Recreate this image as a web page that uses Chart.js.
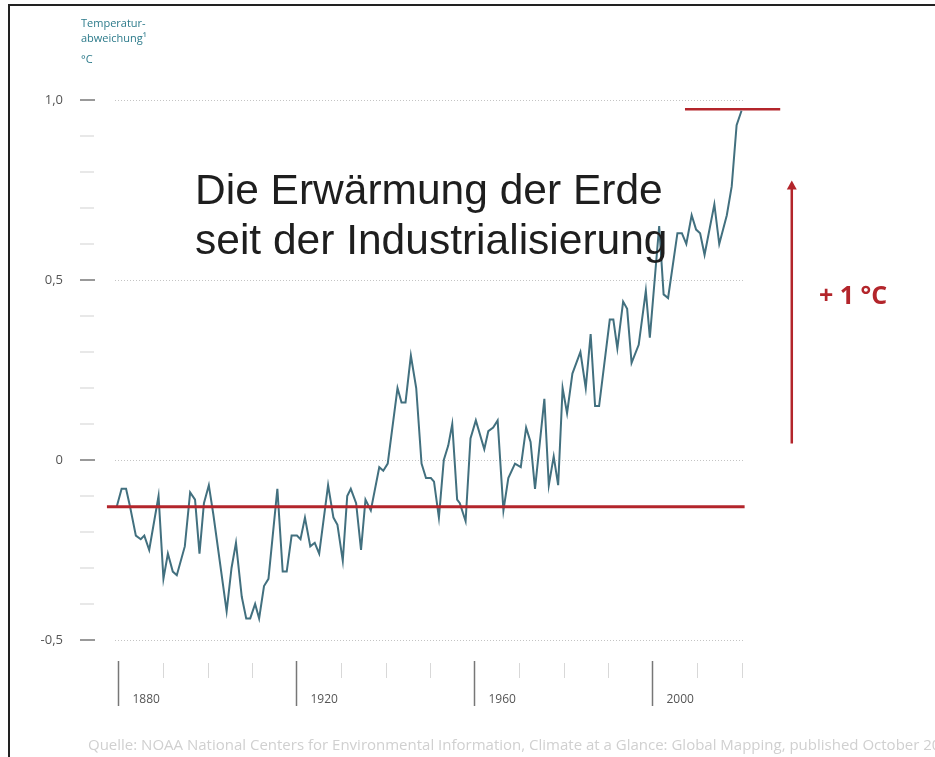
<!DOCTYPE html>
<html>
<head>
<meta charset="utf-8">
<script src="https://cdn.jsdelivr.net/npm/chart.js@4/dist/chart.umd.min.js"></script>
<style>
  html, body { margin: 0; padding: 0; background: #fff; }
  canvas { display: block; }
</style>
</head>
<body>
<canvas id="tempChart" width="935" height="757"></canvas>
<script>
// Jahre und Temperaturabweichung (°C)
const years = [
  1879.6, 1880.7, 1881.7, 1882.6, 1883.9, 1885.0, 1885.8, 1886.9, 1889.0, 1890.1,
  1891.1, 1892.2, 1893.1, 1894.9, 1896.1, 1897.2, 1898.2, 1899.2, 1900.3, 1901.3,
  1904.3, 1905.4, 1906.4, 1907.7, 1908.7, 1909.6, 1910.7, 1911.6, 1912.7, 1913.7,
  1915.7, 1916.9, 1917.8, 1918.9, 1920.1, 1920.9, 1921.9, 1923.1, 1924.1, 1925.1,
  1927.1, 1928.3, 1929.2, 1930.4, 1931.4, 1932.2, 1933.4, 1934.5, 1935.5, 1936.7,
  1938.6, 1939.5, 1940.5, 1942.7, 1943.6, 1944.5, 1945.7, 1946.9, 1948.1, 1949.1,
  1950.2, 1950.9, 1952.0, 1953.1, 1954.1, 1955.0, 1956.1, 1956.7, 1958.0, 1959.1,
  1960.3, 1962.2, 1963.1, 1964.2, 1965.2, 1966.5, 1967.6, 1969.1, 1970.4, 1971.6,
  1972.6, 1973.6, 1975.7, 1976.7, 1977.8, 1978.8, 1979.8, 1980.8, 1982.0, 1983.8,
  1985.0, 1986.1, 1987.1, 1988.0, 1990.4, 1991.2, 1992.1, 1993.4, 1994.3, 1995.3,
  1996.9, 1998.5, 1999.4, 2001.5, 2002.5, 2003.5, 2005.6, 2006.6, 2007.6, 2008.8,
  2009.8, 2010.7, 2011.7, 2013.9, 2015.0, 2016.7, 2017.8, 2018.9, 2020.0
];
const anomaly = [
  -0.13, -0.08, -0.08, -0.13, -0.21, -0.22, -0.21, -0.25, -0.10, -0.33,
  -0.26, -0.31, -0.32, -0.24, -0.09, -0.11, -0.26, -0.12, -0.07, -0.15,
  -0.42, -0.30, -0.23, -0.38, -0.44, -0.44, -0.40, -0.44, -0.35, -0.33,
  -0.08, -0.31, -0.31, -0.21, -0.21, -0.22, -0.16, -0.24, -0.23, -0.26,
  -0.07, -0.16, -0.18, -0.28, -0.10, -0.08, -0.12, -0.25, -0.11, -0.14,
  -0.02, -0.03, -0.01, 0.20, 0.16, 0.16, 0.29, 0.20, -0.01, -0.05,
  -0.05, -0.06, -0.16, 0.00, 0.04, 0.10, -0.11, -0.12, -0.17, 0.06,
  0.11, 0.03, 0.08, 0.09, 0.11, -0.14, -0.05, -0.01, -0.02, 0.09,
  0.05, -0.08, 0.17, -0.07, 0.01, -0.07, 0.20, 0.13, 0.24, 0.30,
  0.20, 0.35, 0.15, 0.15, 0.39, 0.39, 0.31, 0.44, 0.42, 0.27,
  0.32, 0.47, 0.34, 0.65, 0.46, 0.45, 0.63, 0.63, 0.60, 0.68,
  0.64, 0.63, 0.57, 0.71, 0.60, 0.68, 0.76, 0.93, 0.97
];

// Referenzlinien
const baseLevel = -0.13;
const baseYears = [1877.4, 2020.7];
const topLevel = 0.974;
const topYears = [2007.3, 2028.7];
const arrowYear = 2031.3;
const arrowRange = [0.046, 0.76];

// Achsen
const yMajor = [-0.5, 0, 0.5, 1.0];
const yMajorLabels = ['-0,5', '0', '0,5', '1,0'];
const yMinor = [-0.4, -0.3, -0.2, -0.1, 0.1, 0.2, 0.3, 0.4, 0.6, 0.7, 0.8, 0.9];
const xMajor = [1880, 1920, 1960, 2000];
const xMajorLabels = ['1880', '1920', '1960', '2000'];
const xMinor = [1890, 1900, 1910, 1930, 1940, 1950, 1970, 1980, 1990, 2010, 2020];

const red = '#b3252b';

const decorPlugin = {
  id: 'decor',
  beforeDatasetsDraw(chart) {
    const { ctx, scales: { x, y } } = chart;
    ctx.save();
    // gepunktete Gitterlinien
    ctx.strokeStyle = '#c4c4c4';
    ctx.lineWidth = 1;
    ctx.setLineDash([1, 2]);
    yMajor.forEach(v => {
      const py = Math.round(y.getPixelForValue(v)) + 0.5;
      ctx.beginPath();
      ctx.moveTo(115, py);
      ctx.lineTo(745, py);
      ctx.stroke();
    });
    ctx.setLineDash([]);
    // y-Striche
    ctx.strokeStyle = '#777';
    ctx.lineWidth = 1.5;
    yMajor.forEach(v => {
      const py = y.getPixelForValue(v);
      ctx.beginPath();
      ctx.moveTo(80, py);
      ctx.lineTo(95, py);
      ctx.stroke();
    });
    ctx.strokeStyle = '#e0e0e0';
    yMinor.forEach(v => {
      const py = y.getPixelForValue(v);
      ctx.beginPath();
      ctx.moveTo(80, py);
      ctx.lineTo(94, py);
      ctx.stroke();
    });
    ctx.fillStyle = '#555';
    ctx.font = '13px "Open Sans", sans-serif';
    ctx.textAlign = 'right';
    ctx.textBaseline = 'middle';
    yMajor.forEach((v, i) => ctx.fillText(yMajorLabels[i], 63, y.getPixelForValue(v)));

    // x-Striche
    ctx.strokeStyle = '#777';
    ctx.lineWidth = 1.5;
    xMajor.forEach(v => {
      const px = x.getPixelForValue(v);
      ctx.beginPath();
      ctx.moveTo(px, 661);
      ctx.lineTo(px, 706);
      ctx.stroke();
    });
    ctx.strokeStyle = '#d8d8d8';
    ctx.lineWidth = 1;
    xMinor.forEach(v => {
      const px = Math.round(x.getPixelForValue(v)) + 0.5;
      ctx.beginPath();
      ctx.moveTo(px, 663);
      ctx.lineTo(px, 678);
      ctx.stroke();
    });
    ctx.fillStyle = '#555';
    ctx.font = '12px "Open Sans", sans-serif';
    ctx.textAlign = 'left';
    ctx.textBaseline = 'alphabetic';
    xMajor.forEach((v, i) => ctx.fillText(xMajorLabels[i], x.getPixelForValue(v) + 14, 703));

    // Achsentitel
    ctx.fillStyle = '#2d7b8b';
    ctx.font = '11px "Open Sans", sans-serif';
    ctx.fillText('Temperatur-', 81, 27);
    ctx.fillText('abweichung¹', 81, 42);
    ctx.fillText('°C', 81, 63);

    // Rahmen
    ctx.strokeStyle = '#222';
    ctx.lineWidth = 2;
    ctx.beginPath();
    ctx.moveTo(9, 757);
    ctx.lineTo(9, 5);
    ctx.lineTo(935, 5);
    ctx.stroke();

    // Quelle
    ctx.fillStyle = '#d0d0d0';
    ctx.font = '15px "Open Sans", sans-serif';
    ctx.fillText('Quelle: NOAA National Centers for Environmental Information, Climate at a Glance: Global Mapping, published October 2020', 88, 750);
    ctx.restore();
  },
  afterDatasetsDraw(chart) {
    const { ctx, scales: { x, y } } = chart;
    ctx.save();
    // Pfeilspitze am oberen Ende des Pfeils
    const ax = x.getPixelForValue(arrowYear);
    const ay = y.getPixelForValue(arrowRange[1]);
    ctx.fillStyle = red;
    ctx.beginPath();
    ctx.moveTo(ax, ay - 6);
    ctx.lineTo(ax + 5, ay + 3);
    ctx.lineTo(ax - 5, ay + 3);
    ctx.closePath();
    ctx.fill();

    ctx.fillStyle = '#1e1e1e';
    ctx.font = '42.5px "Liberation Sans", Arial, sans-serif';
    ctx.textAlign = 'left';
    ctx.textBaseline = 'alphabetic';
    ctx.fillText('Die Erwärmung der Erde', 195, 204);
    ctx.fillText('seit der Industrialisierung', 195, 254);

    ctx.fillStyle = red;
    ctx.font = 'bold 25px "Open Sans", sans-serif';
    ctx.textBaseline = 'middle';
    ctx.fillText('+ 1 °C', 819, 297);
    ctx.restore();
  }
};

new Chart(document.getElementById('tempChart'), {
  type: 'line',
  data: {
    datasets: [
      {
        label: 'Basis',
        data: baseYears.map(yr => ({ x: yr, y: baseLevel })),
        borderColor: red,
        borderWidth: 3,
        pointRadius: 0,
        clip: false
      },
      {
        label: 'Temperaturabweichung',
        data: years.map((yr, i) => ({ x: yr, y: anomaly[i] })),
        borderColor: '#42707f',
        borderWidth: 2,
        pointRadius: 0,
        tension: 0,
        clip: false
      },
      {
        label: 'Heute',
        data: topYears.map(yr => ({ x: yr, y: topLevel })),
        borderColor: red,
        borderWidth: 2.5,
        pointRadius: 0,
        clip: false
      },
      {
        label: 'Pfeil',
        data: arrowRange.map(v => ({ x: arrowYear, y: v })),
        borderColor: red,
        borderWidth: 2.5,
        pointRadius: 0,
        clip: false
      }
    ]
  },
  options: {
    responsive: false,
    animation: false,
    layout: { padding: { left: 118.5, right: 193.5, top: 100, bottom: 117 } },
    scales: {
      x: { type: 'linear', min: 1880, max: 2020, display: false },
      y: { min: -0.5, max: 1.0, display: false }
    },
    plugins: {
      legend: { display: false },
      tooltip: { enabled: false }
    }
  },
  plugins: [decorPlugin]
});
</script>
</body>
</html>
